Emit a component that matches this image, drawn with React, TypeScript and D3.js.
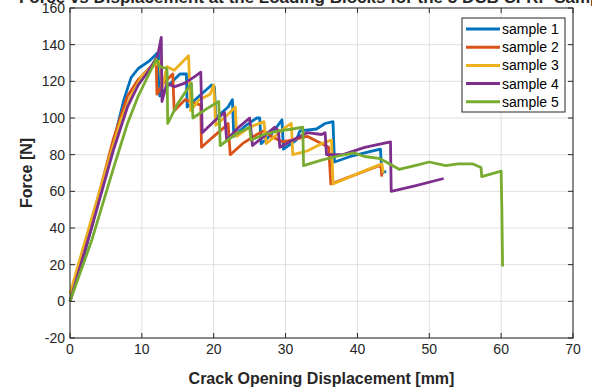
import * as d3 from "d3";

type Pt = [number, number];

const seriesNames = ["sample 1", "sample 2", "sample 3", "sample 4", "sample 5"];
const seriesColors = ["#0072BD", "#D95319", "#EDB120", "#7E2F8E", "#77AC30"];
const xTicks = [0, 10, 20, 30, 40, 50, 60, 70];
const yTicks = [-20, 0, 20, 40, 60, 80, 100, 120, 140, 160];

const sample1: Pt[] = [
  [0, 0], [2, 26], [4, 55], [6, 86], [7.5, 110], [8.5, 122], [9.5, 127], [11, 131],
  [12.3, 136], [12.5, 112], [13.5, 117], [15.3, 124], [16.2, 124], [16.3, 106],
  [18, 112], [19.7, 118], [20.1, 117], [20.3, 100], [22, 106], [22.6, 110],
  [22.8, 90], [24.5, 96], [26, 100], [26.4, 100], [26.6, 86], [28, 91], [29.5, 99],
  [29.7, 83], [31.5, 88], [32, 93], [34.3, 94], [35.5, 97], [36.6, 98], [36.8, 76],
  [39, 79], [41, 81], [43.2, 83], [43.4, 70], [44, 71],
];
const sample2: Pt[] = [
  [0, 0], [2, 30], [4, 58], [6, 88], [8, 112], [9.5, 121], [11, 127], [12, 131],
  [12.1, 113], [13, 119], [14.3, 124], [14.5, 104], [16, 110], [18.2, 107],
  [18.3, 84], [20, 90], [21.5, 95], [22, 97], [22.3, 80], [24, 86], [26, 91],
  [27, 93], [28, 90], [29.5, 87], [31, 88], [33, 90], [34.5, 87], [36, 84],
  [36.3, 64], [39, 68], [41, 71], [43, 74], [43.3, 73], [43.4, 68],
];
const sample3: Pt[] = [
  [0, 4], [1, 18], [3, 45], [5, 72], [7, 98], [8.5, 112], [10, 123], [11.5, 128],
  [12.5, 131], [12.8, 116], [13.5, 128], [14.5, 126], [15.5, 130], [16.5, 134],
  [16.8, 104], [18, 110], [19.5, 113], [20, 118], [20.3, 96], [22, 102], [23, 106],
  [23.2, 90], [25, 95], [27, 98], [27.3, 86], [28.5, 90], [30, 95], [30.8, 97],
  [31, 80], [33, 82], [35, 86], [36.4, 88], [36.6, 64], [39, 68], [41.5, 72],
  [43.4, 75], [43.6, 70],
];
const sample4: Pt[] = [
  [0, 0], [3, 40], [6, 82], [8, 106], [9.5, 118], [11, 126], [12.2, 134], [12.7, 144],
  [12.8, 109], [13.5, 119], [14.5, 117], [16, 119], [17.5, 123], [18.2, 125],
  [18.4, 92], [20, 98], [21.5, 103], [21.8, 88], [23.5, 95], [25, 100], [25.4, 85],
  [27, 90], [28.5, 95], [29, 93], [29.2, 84], [31, 88], [33, 92], [35, 91],
  [35.5, 92], [35.7, 80], [38, 80], [41, 84], [44.6, 87], [44.7, 60], [48, 63],
  [52, 67],
];
const sample5: Pt[] = [
  [0, 0], [3, 33], [6, 72], [8, 97], [9.5, 112], [11, 124], [12, 132], [12.5, 128],
  [13.5, 127], [13.6, 97], [15, 108], [16.9, 119], [17.1, 100], [19, 105],
  [20.7, 109], [20.9, 85], [23, 91], [25, 95], [25.2, 88], [27, 91], [29, 93],
  [31, 94], [32.4, 95], [32.5, 74], [35, 77], [37, 79], [39.5, 81], [41, 79],
  [43, 78], [44, 76], [45.8, 72], [48, 74], [50, 76], [52.3, 74], [54, 75],
  [56, 75], [57.2, 73], [57.3, 68], [60, 71], [60.1, 50], [60.2, 19],
];

const allSeries = [sample1, sample2, sample3, sample4, sample5];

export default function App() {
  const W = 592;
  const H = 392;
  const margin = { top: 8, right: 19, bottom: 54, left: 70 };
  const x = d3.scaleLinear().domain([0, 70]).range([margin.left, W - margin.right]);
  const y = d3.scaleLinear().domain([-20, 160]).range([H - margin.bottom, margin.top]);
  const line = d3
    .line<Pt>()
    .x((d) => x(d[0]))
    .y((d) => y(d[1]));

  const axisColor = "#262626";
  const font = "Liberation Sans, Arial, sans-serif";
  const [x0, x1] = x.range();
  const [y0, y1] = y.range();
  const tick = 5;

  return (
    <svg
      width={W}
      height={H}
      style={{ position: "absolute", left: 0, top: 0, background: "#fff" }}
      fontFamily={font}
    >
      <rect x={0} y={0} width={W} height={H} fill="#fff" />
      <text
        x={(x0 + x1) / 2}
        y={3}
        textAnchor="middle"
        fontSize={17}
        fontWeight="bold"
        fill={axisColor}
      >
        Force vs Displacement at the Loading Blocks for the 5 DCB CFRP Samples
      </text>

      {/* grid */}
      {xTicks.map((t) => (
        <line key={`gx${t}`} x1={x(t)} x2={x(t)} y1={y1} y2={y0} stroke="#dfdfdf" strokeWidth={1} />
      ))}
      {yTicks.map((t) => (
        <line key={`gy${t}`} x1={x0} x2={x1} y1={y(t)} y2={y(t)} stroke="#dfdfdf" strokeWidth={1} />
      ))}

      {/* data */}
      {allSeries.map((s, i) => (
        <path
          key={seriesNames[i]}
          d={line(s) ?? ""}
          fill="none"
          stroke={seriesColors[i]}
          strokeWidth={2.8}
          strokeLinejoin="round"
        />
      ))}

      {/* box + ticks */}
      <rect x={x0} y={y1} width={x1 - x0} height={y0 - y1} fill="none" stroke={axisColor} strokeWidth={1} />
      {xTicks.map((t) => (
        <g key={`tx${t}`}>
          <line x1={x(t)} x2={x(t)} y1={y0} y2={y0 - tick} stroke={axisColor} />
          <line x1={x(t)} x2={x(t)} y1={y1} y2={y1 + tick} stroke={axisColor} />
          <text x={x(t)} y={y0 + 16} textAnchor="middle" fontSize={14} fill={axisColor}>
            {t}
          </text>
        </g>
      ))}
      {yTicks.map((t) => (
        <g key={`ty${t}`}>
          <line x1={x0} x2={x0 + tick} y1={y(t)} y2={y(t)} stroke={axisColor} />
          <line x1={x1} x2={x1 - tick} y1={y(t)} y2={y(t)} stroke={axisColor} />
          <text x={x0 - 5} y={y(t)} dy="0.35em" textAnchor="end" fontSize={14} fill={axisColor}>
            {t}
          </text>
        </g>
      ))}

      <text
        x={(x0 + x1) / 2}
        y={384}
        textAnchor="middle"
        fontSize={16}
        fontWeight="bold"
        fill={axisColor}
      >
        Crack Opening Displacement [mm]
      </text>
      <text
        transform={`translate(32,${(y0 + y1) / 2}) rotate(-90)`}
        textAnchor="middle"
        fontSize={16}
        fontWeight="bold"
        fill={axisColor}
      >
        Force [N]
      </text>

      {/* legend */}
      <g transform="translate(462,18)">
        <rect x={0} y={0} width={103} height={94} fill="#fff" stroke={axisColor} strokeWidth={1} />
        {seriesNames.map((n, i) => (
          <g key={n} transform={`translate(0,${11 + i * 18.2})`}>
            <line x1={4} x2={38} y1={0} y2={0} stroke={seriesColors[i]} strokeWidth={3} />
            <text x={40} y={0} dy="0.35em" fontSize={14} fill="#000">
              {n}
            </text>
          </g>
        ))}
      </g>
    </svg>
  );
}
